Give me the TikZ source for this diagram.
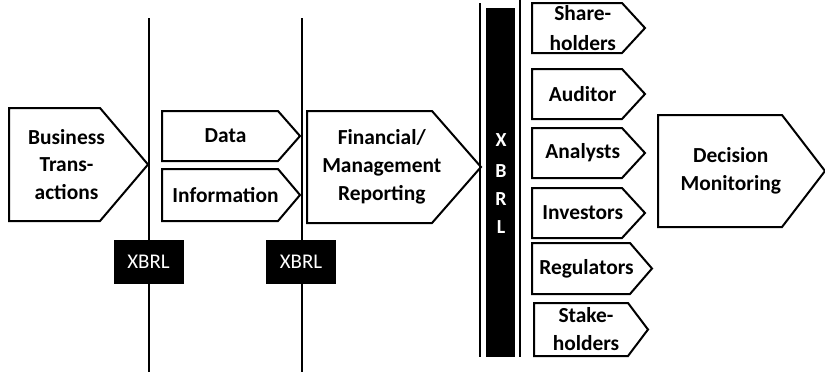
\documentclass[tikz,border=0pt]{standalone}
\usepackage{fontspec}
\setmainfont{Carlito}
\tikzset{
  boxline/.style={draw=black,line width=2bp,fill=white,line join=miter},
  boxtext/.style={align=center,font=\bfseries\fontsize{21.5}{28}\selectfont,inner sep=0pt},
  sep/.style={draw=black,line width=2bp},
  xbrlbox/.style={fill=black,draw=black,text=white,font=\fontsize{21}{24}\selectfont,inner sep=0pt,minimum width=69bp,minimum height=43bp},
  vletter/.style={text=white,font=\bfseries\fontsize{20}{22}\selectfont,inner sep=0pt}
}
\newcommand\arrowbox[7]{%
  \draw[boxline] (#2,#3) -- (#4,#3) -- (#6,{(#3+#5)/2}) -- (#4,#5) -- (#2,#5) -- cycle;
  \node[boxtext] (#1) at ({(#2+#4)/2+0.25*(#6-#4)},{(#3+#5)/2}) {#7};}
\begin{document}
\begin{tikzpicture}[x=1bp,y=-1bp]
\useasboundingbox (0,0) rectangle (825,375);
% separator lines
\coordinate (l1t) at (149,18); \coordinate (l1b) at (149,372);
\coordinate (l2t) at (302,18); \coordinate (l2b) at (302,372);
\draw[sep] (l1t) -- (l1b);
\draw[sep] (l2t) -- (l2b);
% boxes
\arrowbox{bt}{9}{108}{100}{221}{148}{Business\\Trans-\\actions}
\arrowbox{data}{162}{111}{278}{161}{300}{Data}
\arrowbox{info}{162}{169}{278}{221}{300}{Information}
\arrowbox{fin}{307}{111}{432}{223}{481}{Financial/\\Management\\Reporting}
\arrowbox{share}{532}{3}{622}{53}{645}{Share-\\[2bp]holders}
\arrowbox{aud}{532}{69}{622}{119}{645}{Auditor}
\arrowbox{ana}{532}{128}{622}{178}{645}{Analysts}
\arrowbox{inv}{532}{188}{622}{238}{645}{Investors}
\arrowbox{reg}{532}{243}{630}{294}{652}{Regulators}
\arrowbox{stake}{534}{303}{628}{356}{648}{Stake-\\holders}
\arrowbox{dec}{658}{115}{782}{227}{825}{Decision\\Monitoring}
% XBRL small boxes
\node[xbrlbox] (x1) at (148.5,261.5) {XBRL};
\node[xbrlbox] (x2) at (301,262) {XBRL};
% XBRL bar
\coordinate (bl1) at (480,3); \coordinate (bl2) at (480,357);
\coordinate (br1) at (520,0); \coordinate (br2) at (520,357);
\draw[line width=1.5bp] (bl1) -- (bl2);
\draw[line width=1.5bp] (br1) -- (br2);
\fill[black] (486,8) rectangle (515,357);
\node[vletter] (vx) at (501,140) {X};
\node[vletter] (vb) at (501,171) {B};
\node[vletter] (vr) at (501,199) {R};
\node[vletter] (vl) at (501,227) {L};
\end{tikzpicture}
\end{document}
